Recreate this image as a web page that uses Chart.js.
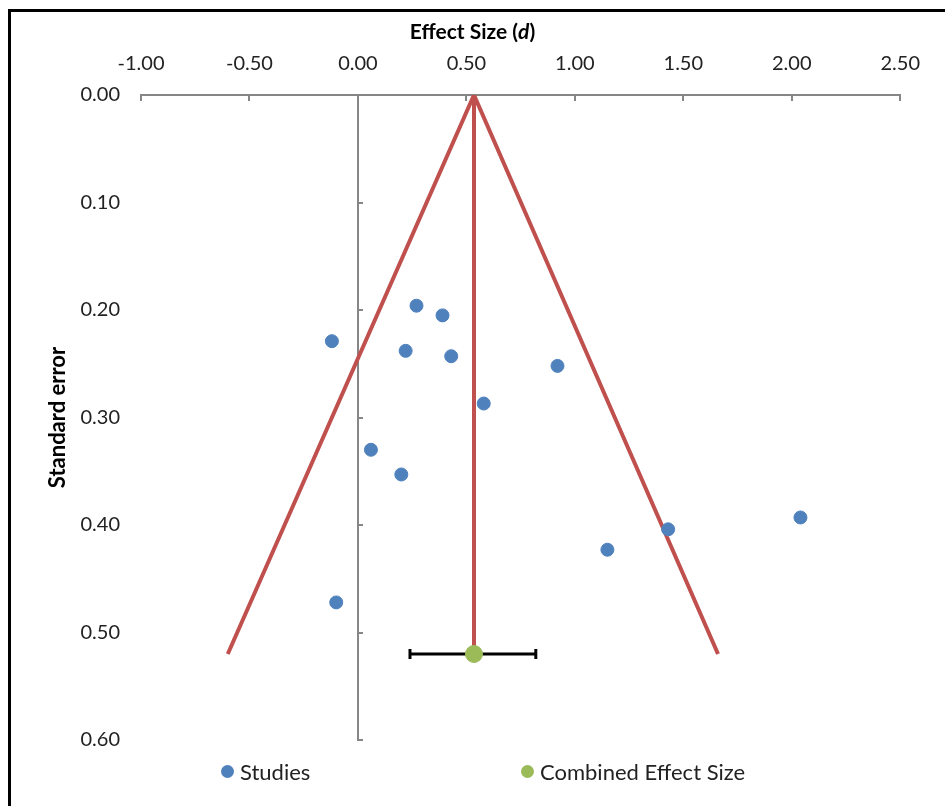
<!DOCTYPE html>
<html>
<head>
<meta charset="utf-8">
<script src="https://cdn.jsdelivr.net/npm/chart.js@4"></script>
<style>
  html, body { margin: 0; padding: 0; background: #fff; overflow: hidden; }
  #wrap { position: relative; width: 945px; height: 806px; overflow: hidden; }
  #funnel { display: block; }
  #frame { position: absolute; left: 8px; top: 9px; width: 2000px; height: 2000px;
           border-left: 3px solid #000; border-top: 3px solid #000; box-sizing: border-box; }
  #legend { position: absolute; top: 757px; left: 0; width: 945px; height: 28px;
            font-family: Lato, "Open Sans", sans-serif; font-size: 22px; color: #222; }
  .item { position: absolute; top: 0; display: flex; align-items: center; height: 28px; }
  .dot { width: 13px; height: 13px; border-radius: 50%; margin-right: 6px; }
</style>
</head>
<body>
<div id="wrap">
  <canvas id="funnel" width="945" height="806"></canvas>
  <div id="frame"></div>
  <div id="legend"></div>
</div>
<script>
const studyNames = 'Studies';
const combinedName = 'Combined Effect Size';

// effect size (d) and standard error for each study
const studyEffect = [-0.12, 0.27, 0.39, 0.22, 0.43, 0.92, 0.58, 0.06, 0.20, 1.15, 1.43, 2.04, -0.10];
const studySE     = [0.229, 0.196, 0.205, 0.238, 0.243, 0.252, 0.287, 0.330, 0.353, 0.423, 0.404, 0.393, 0.472];

const combinedEffect = [0.535];
const combinedSE = [0.52];
const ciBounds = [0.24, 0.82];

// funnel: left foot, apex, right foot
const funnelX  = [-0.60, 0.535, 1.66];
const funnelSE = [0.52, 0.00, 0.52];

const xTicks = [-1.00, -0.50, 0.00, 0.50, 1.00, 1.50, 2.00, 2.50];
const yTicks = [0.00, 0.10, 0.20, 0.30, 0.40, 0.50, 0.60];

const font = 'Lato, "Open Sans", sans-serif';
const red = '#C0504D', blue = '#4F81BD', green = '#9BBB59', axisGrey = '#868686';

const pts = (xs, ys) => xs.map((x, i) => ({ x: x, y: ys[i] }));

const xTitle = {
  id: 'xTitle',
  afterDraw(chart) {
    const ctx = chart.ctx;
    const parts = [['Effect Size (', 'bold'], ['d', 'italic bold'], [')', 'bold']];
    let w = 0;
    parts.forEach(p => { ctx.font = p[1] + ' 21px ' + font; w += ctx.measureText(p[0]).width; });
    let x = chart.width / 2 - w / 2;
    ctx.save();
    ctx.fillStyle = '#000';
    ctx.textBaseline = 'middle';
    parts.forEach(p => {
      ctx.font = p[1] + ' 21px ' + font;
      ctx.fillText(p[0], x, 32);
      x += ctx.measureText(p[0]).width;
    });
    ctx.restore();
  }
};

const chart = new Chart(document.getElementById('funnel'), {
  type: 'scatter',
  data: {
    datasets: [
      {
        label: combinedName,
        data: pts(combinedEffect, combinedSE),
        backgroundColor: green, borderColor: green,
        pointRadius: 8.5, order: 0
      },
      {
        label: studyNames,
        data: pts(studyEffect, studySE),
        backgroundColor: blue, borderColor: blue,
        pointRadius: 6.5, order: 1
      },
      {
        label: 'ci',
        data: pts(ciBounds, [combinedSE[0], combinedSE[0]]),
        showLine: true, borderColor: '#000', borderWidth: 3,
        pointStyle: 'line', rotation: 90, pointRadius: 5,
        pointBorderWidth: 3, pointBorderColor: '#000', order: 2
      },
      {
        label: 'mean',
        data: pts([funnelX[1], funnelX[1]], [funnelSE[1], combinedSE[0]]),
        showLine: true, borderColor: red, borderWidth: 4, pointRadius: 0, order: 3
      },
      {
        label: 'funnel',
        data: pts(funnelX, funnelSE),
        showLine: true, borderColor: red, borderWidth: 4, pointRadius: 0, order: 4
      }
    ]
  },
  options: {
    responsive: false,
    animation: false,
    layout: { padding: { left: 0, right: 42, top: 0, bottom: 66 } },
    scales: {
      x: {
        type: 'linear', position: 'top',
        min: -1, max: 2.5,
        afterBuildTicks: s => { s.ticks = xTicks.map(v => ({ value: v })); },
        afterFit: s => { s.height = 95; },
        ticks: {
          padding: 25, color: '#222', font: { family: font, size: 20 },
          callback: v => v.toFixed(2)
        },
        grid: { drawOnChartArea: false, tickLength: -6, color: axisGrey, lineWidth: 2 },
        border: { color: axisGrey, width: 2 }
      },
      y: {
        type: 'linear', position: 'left', reverse: true,
        min: 0, max: 0.6,
        afterBuildTicks: s => { s.ticks = yTicks.map(v => ({ value: v })); },
        afterFit: s => { s.width = 141; },
        ticks: {
          padding: 21, color: '#222', font: { family: font, size: 20 },
          callback: v => v.toFixed(2)
        },
        grid: { display: false, drawTicks: false },
        border: { display: false },
        title: {
          display: true, text: 'Standard error', color: '#000',
          font: { family: font, size: 22, weight: 'bold' },
          padding: { top: 45, bottom: 0 }
        }
      },
      y2: {
        type: 'linear', position: { x: 0 }, reverse: true,
        min: 0, max: 0.6,
        afterBuildTicks: s => { s.ticks = yTicks.map(v => ({ value: v })); },
        ticks: { display: false },
        grid: { drawOnChartArea: false, tickLength: -6, color: axisGrey, lineWidth: 2 },
        border: { color: axisGrey, width: 2 }
      }
    },
    plugins: {
      legend: { display: false },
      tooltip: { enabled: false }
    }
  },
  plugins: [xTitle]
});

// html legend for the two marker series
const legendPos = { [studyNames]: 221, [combinedName]: 521 };
const legend = document.getElementById('legend');
chart.data.datasets.filter(d => legendPos[d.label] !== undefined)
  .sort((a, b) => legendPos[a.label] - legendPos[b.label])
  .forEach(d => {
    const item = document.createElement('div');
    item.className = 'item';
    item.style.left = legendPos[d.label] + 'px';
    const dot = document.createElement('span');
    dot.className = 'dot';
    dot.style.background = d.backgroundColor;
    item.appendChild(dot);
    item.appendChild(document.createTextNode(d.label));
    legend.appendChild(item);
  });
</script>
</body>
</html>
